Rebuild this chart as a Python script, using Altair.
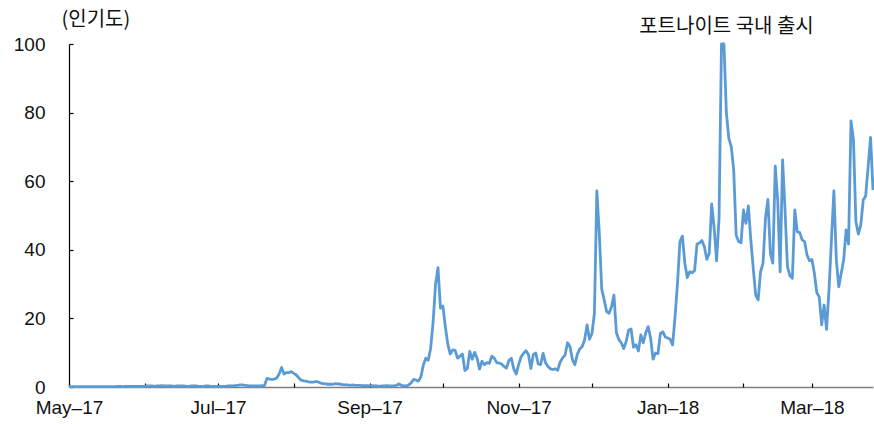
import altair as alt
import pandas as pd

# Daily search popularity index (peak = 100), May 2017 - March 2018
START = "2017-05-01"

may17 = [0.1, 0.1, 0.1, 0.1, 0.1, 0.1, 0.1, 0.1, 0.1, 0.1, 0.1, 0.1, 0.1, 0.1, 0.1, 0.1,
         0.1, 0.1, 0.1, 0.1, 0.2, 0.2, 0.1, 0.2, 0.2, 0.2, 0.2, 0.2, 0.2, 0.2, 0.2]
jun17 = [0.2, 0.3, 0.3, 0.3, 0.2, 0.3, 0.3, 0.4, 0.3, 0.3, 0.3, 0.3, 0.2, 0.3, 0.3,
         0.3, 0.3, 0.2, 0.2, 0.3, 0.3, 0.3, 0.2, 0.2, 0.2, 0.3, 0.3, 0.2, 0.2, 0.2]
jul17 = [0.2, 0.2, 0.2, 0.2, 0.3, 0.3, 0.3, 0.4, 0.5, 0.6, 0.6, 0.5, 0.4, 0.3, 0.3, 0.3,
         0.3, 0.3, 0.4, 0.4, 2.5, 2.3, 2.2, 2.3, 2.6, 3.8, 5.7, 3.8, 4.2, 4.2, 4.5]
aug17 = [4.0, 3.5, 2.7, 2.0, 1.8, 1.7, 1.5, 1.4, 1.4, 1.6, 1.5, 1.1, 1.0, 0.9, 0.8, 0.8,
         0.8, 1.0, 0.9, 0.8, 0.7, 0.6, 0.6, 0.5, 0.6, 0.5, 0.5, 0.5, 0.4, 0.4, 0.4]
sep17 = [0.3, 0.4, 0.3, 0.3, 0.2, 0.3, 0.3, 0.4, 0.3, 0.3, 0.3, 0.5, 0.9, 0.5, 0.3,
         0.3, 0.6, 1.2, 2.2, 2.0, 1.7, 3.0, 6.4, 8.4, 7.8, 11.3, 19.0, 30.0, 34.8, 23.0]
oct17 = [23.6, 17.6, 12.5, 9.6, 10.8, 10.7, 8.4, 9.0, 9.6, 4.8, 5.4, 10.4, 8.1, 10.1, 8.4, 5.2,
         7.5, 6.5, 7.1, 6.9, 9.0, 8.4, 7.1, 7.0, 6.7, 6.0, 5.5, 7.7, 8.4, 5.3, 3.8]
nov17 = [6.5, 8.8, 9.8, 10.6, 9.5, 5.4, 9.5, 9.9, 6.7, 6.5, 9.8, 7.1, 6.0, 5.3, 5.1,
         5.3, 4.9, 7.3, 8.5, 9.3, 12.9, 11.8, 8.0, 6.5, 9.5, 11.1, 11.8, 13.8, 18.1, 13.9]
dec17 = [15.6, 21.5, 57.2, 44.8, 28.5, 25.4, 22.0, 21.5, 23.4, 26.8, 15.8, 13.8, 12.9, 11.2, 13.3, 16.6,
         16.9, 11.6, 12.3, 10.5, 15.2, 12.9, 15.8, 17.6, 14.3, 8.1, 9.9, 9.7, 15.6, 16.1, 14.6]
jan18 = [14.3, 13.9, 12.3, 20.5, 30.2, 42.4, 44.0, 36.1, 31.9, 33.6, 33.3, 34.0, 41.7, 42.0, 42.7, 40.9,
         37.2, 39.0, 53.4, 46.3, 36.8, 49.2, 100.0, 100.0, 80.0, 72.5, 70.1, 63.3, 44.3, 42.4, 42.1]
feb18 = [51.6, 47.7, 52.8, 42.9, 34.6, 26.8, 25.4, 33.6, 36.1, 49.2, 54.7, 39.0, 36.1, 64.4,
         54.5, 33.6, 66.2, 51.6, 35.1, 32.4, 31.7, 51.6, 45.3, 45.0, 42.9, 42.4, 38.5, 36.8]
mar18 = [37.2, 33.2, 27.5, 26.3, 18.1, 23.9, 16.8, 28.3, 42.9, 57.2, 37.0, 29.2, 33.2,
         37.0, 45.8, 41.7, 77.6, 72.2, 48.2, 44.6, 47.2, 54.5, 55.7, 64.2, 72.8, 57.4]

months = [may17, jun17, jul17, aug17, sep17, oct17, nov17, dec17, jan18, feb18, mar18]
values = [v for m in months for v in m]
dates = pd.date_range(START, periods=len(values), freq="D")

series = pd.DataFrame({"date": dates.strftime("%Y-%m-%dT00:00:00"), "value": values})

LAUNCH_DATE = "2018-01-23T00:00:00"
LAUNCH_LABEL = "포트나이트 국내 출시"
note = pd.DataFrame({"date": [LAUNCH_DATE], "value": [100.0], "label": [LAUNCH_LABEL]})

Y_TICKS = [0, 20, 40, 60, 80, 100]
MONTH_TICKS = [alt.DateTime(year=d.year, month=d.month, date=1)
               for d in pd.date_range("2017-05-01", "2018-03-01", freq="MS")]

LABEL_FONT = "Liberation Sans"
KR_FONT = "Noto Sans CJK KR"

x_scale = alt.Scale(domain=[alt.DateTime(year=2017, month=5, date=1),
                            alt.DateTime(year=2018, month=3, date=26)],
                    nice=False)
y_scale = alt.Scale(domain=[0, 100], nice=False)

line = alt.Chart(series).mark_line(
    color="#5B9BD5", strokeWidth=2.8, strokeJoin="round", clip=False
).encode(
    x=alt.X("date:T", scale=x_scale, axis=alt.Axis(
        values=MONTH_TICKS,
        labelExpr="month(datum.value) % 2 == 0 ? timeFormat(datum.value, '%b–%y') : ''",
        ticks=False, tickSize=0, labelPadding=11, labelOverlap=False, labelFlush=False,
        labelFont=LABEL_FONT, labelFontSize=19, labelColor="#111111",
        domainColor="#808080", domainWidth=1.5, grid=False, title=None)),
    y=alt.Y("value:Q", scale=y_scale, axis=alt.Axis(
        values=Y_TICKS, ticks=False, tickSize=0, labelPadding=24,
        labelFont=LABEL_FONT, labelFontSize=19, labelColor="#111111",
        domainColor="#000000", domainWidth=1.2, grid=False,
        title="(인기도)", titleAngle=0, titleX=-8, titleY=-25,
        titleAlign="left", titleBaseline="middle", titleFont=KR_FONT,
        titleFontSize=20, titleFontWeight="normal", titleColor="#111111")),
)

# Annotation above the launch spike; its axes draw the inward tick marks.
label = alt.Chart(note).mark_text(
    font=KR_FONT, fontSize=20, color="#111111", align="center",
    baseline="middle", dx=5, dy=-17
).encode(
    x=alt.X("date:T", scale=x_scale, axis=alt.Axis(
        orient="bottom", offset=-4, values=MONTH_TICKS, labels=False,
        domain=False, tickSize=4, tickColor="#000000", tickWidth=1.2,
        grid=False, title=None)),
    y=alt.Y("value:Q", scale=y_scale, axis=alt.Axis(
        orient="left", offset=-4, values=Y_TICKS, labels=False,
        domain=False, tickSize=4, tickColor="#000000", tickWidth=1.2,
        grid=False, title=None)),
    text="label:N",
)

chart = alt.layer(line, label).resolve_axis(
    x="independent", y="independent"
).properties(
    width=804, height=343,
    autosize=alt.AutoSizeParams(type="none"),
    padding={"left": 69, "top": 44, "right": 1, "bottom": 37},
    background="white",
).configure_view(stroke=None)

chart.save("out.html", embed_options={"renderer": "svg", "actions": False})
